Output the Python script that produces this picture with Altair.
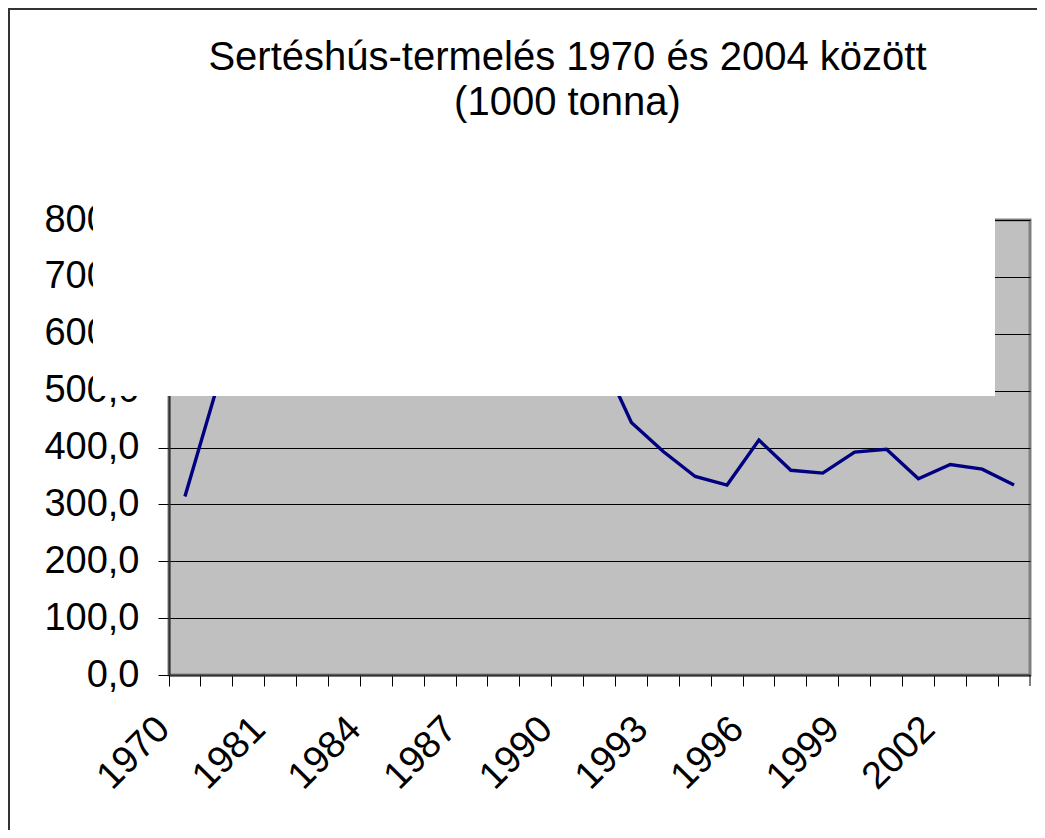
import json
import altair as alt
import pandas as pd

# ---- data (hidden part of the series is estimated) ----
years = ["1970", "1975", "1980", "1981", "1982", "1983", "1984", "1985", "1986",
         "1987", "1988", "1989", "1990", "1991", "1992", "1993", "1994", "1995",
         "1996", "1997", "1998", "1999", "2000", "2001", "2002", "2003", "2004"]
values = [314, 505, 620, 640, 690, 700, 680, 710, 720,
          700, 690, 700, 660, 565, 444, 393, 349, 334,
          413, 360, 355, 392, 397, 345, 370, 362, 334]
shown_labels = ["1970", "1981", "1984", "1987", "1990", "1993", "1996", "1999", "2002"]
y_ticks = [0, 100, 200, 300, 400, 500, 600, 700, 800]
title_lines = ["Sertéshús-termelés 1970 és 2004 között", "(1000 tonna)"]

FONT = "Liberation Sans"
W, H = 861, 455

df = pd.DataFrame({"year": years, "value": values})
one = pd.DataFrame({"k": [0]})

x_label_expr = "indexof(" + json.dumps(shown_labels) + ", datum.label) >= 0 ? datum.label : ''"

line = alt.Chart(df).mark_line(color="#000080", strokeWidth=3.4).encode(
    x=alt.X("year:N", sort=years, bandPosition=0.5,
            scale=alt.Scale(type="band", paddingInner=0, paddingOuter=0),
            axis=alt.Axis(title=None, bandPosition=0, labelAngle=-45, labelAlign="right",
                          labelBaseline="middle", labelOffset=-21, labelPadding=37,
                          tickSize=11, tickColor="black", tickWidth=1,
                          domainColor="#333333", domainWidth=2,
                          labelFontSize=38, labelFont=FONT, labelColor="black",
                          labelExpr=x_label_expr, labelOverlap=False, labelBound=False,
                          labelFlush=False, grid=False, zindex=0)),
    y=alt.Y("value:Q", scale=alt.Scale(domain=[0, 800], nice=False, zero=True),
            axis=alt.Axis(title=None, values=y_ticks,
                          labelExpr="replace(format(datum.value, '.1f'), '.', ',')",
                          labelFontSize=38, labelFont=FONT, labelColor="black",
                          labelPadding=19, tickSize=11, tickColor="black",
                          domainColor="#333333", domainWidth=2,
                          grid=True, gridColor="black", gridWidth=1, zindex=0)),
)

# white box that covers part of the chart in the original
box = alt.Chart(one).mark_rect(color="white").encode(
    x=alt.value(-76), x2=alt.value(826), y=alt.value(-15), y2=alt.value(176)
)

# last category tick at the right end of the axis
end_tick = alt.Chart(one).mark_rule(color="black", strokeWidth=1).encode(
    x=alt.value(W), y=alt.value(H), y2=alt.value(H + 11)
)

# outer chart-area border
border = alt.Chart(one).mark_rect(filled=False, stroke="#333333", strokeWidth=2).encode(
    x=alt.value(-160), x2=alt.value(W + 40), y=alt.value(-211), y2=alt.value(H + 200)
)

chart = alt.layer(line, box, end_tick, border).properties(
    width=W, height=H,
    autosize=alt.AutoSizeParams(type="none"),
    padding={"left": 161, "top": 212, "right": 7, "bottom": 155},
    title=alt.TitleParams(text=title_lines, font=FONT, fontSize=40, fontWeight="normal",
                          color="black", anchor="middle", frame="group", lineHeight=45,
                          baseline="alphabetic", offset=-147, dx=-32),
).configure_view(fill="#C0C0C0", stroke="#808080", strokeWidth=3)

chart.save("out.html", embed_options={"renderer": "svg", "actions": False})
